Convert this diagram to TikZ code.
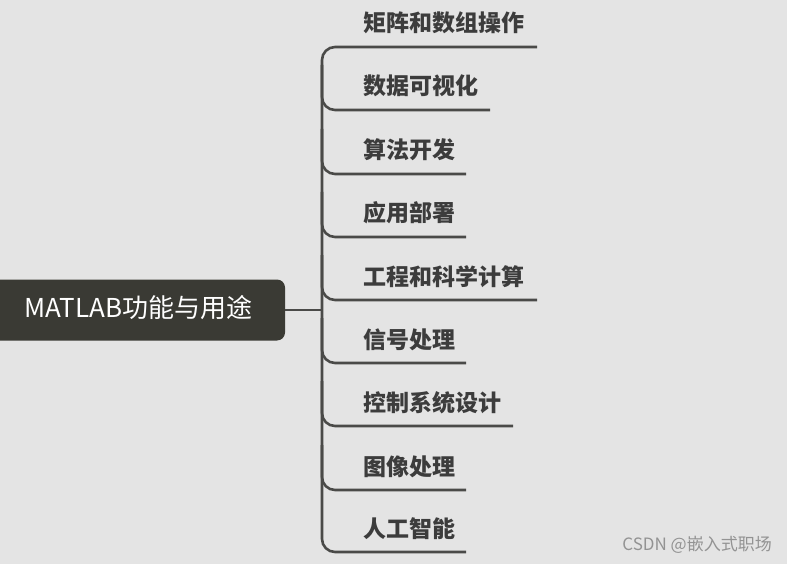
\documentclass[tikz,border=0pt]{standalone}
\usepackage{fontspec}
\newfontfamily\cjk{Noto Sans CJK SC}
\definecolor{bg}{HTML}{E4E4E4}
\definecolor{ln}{HTML}{4A4A48}
\definecolor{rootc}{HTML}{3A3A34}
\definecolor{tx}{HTML}{3C3C3C}
\tikzset{x=1pt,y=-1pt,
  lbl/.style={anchor=base west,inner sep=0pt,text=tx,font=\cjk\bfseries\fontsize{23}{24}\selectfont},
  br/.style={draw=ln,line width=2.6pt,rounded corners=13pt}}
\begin{document}
\begin{tikzpicture}
\useasboundingbox[fill=bg] (0,0) rectangle (787,564);
\node[fill=rootc,rounded corners=8pt,minimum width=300pt,minimum height=61pt,inner sep=0pt] (root) at (135,310) {};
\node[text=white,font=\cjk\fontsize{26}{28}\selectfont,anchor=west,inner sep=0pt] (rt) at (24,308) {MATLAB功能与用途};
\coordinate (j) at (322,310);
\draw[br] (285,310) -- (j);
\foreach \i/\y/\e/\t in {1/47/537/矩阵和数组操作,2/110/490/数据可视化,3/174/466/算法开发,4/237/466/应用部署,5/300/537/工程和科学计算,6/363/466/信号处理,7/426/513/控制系统设计,8/490/466/图像处理,9/552/466/人工智能}{
  \coordinate (s\i) at (322,\y-45);
  \coordinate (c\i) at (322,\y);
  \coordinate (e\i) at (\e,\y);
  \node[lbl] (t\i) at (363,\y-15) {\t};
}
\draw[br] (e1) -- (c1) -- (c9) -- (e9);
\foreach \i in {2,...,8}{\draw[br] (s\i) -- (c\i) -- (e\i);}
\node[anchor=base east,inner sep=0pt,text=gray!85!white,font=\cjk\fontsize{17}{18}\selectfont] (wm) at (772,550) {CSDN @嵌入式职场};
\end{tikzpicture}
\end{document}
